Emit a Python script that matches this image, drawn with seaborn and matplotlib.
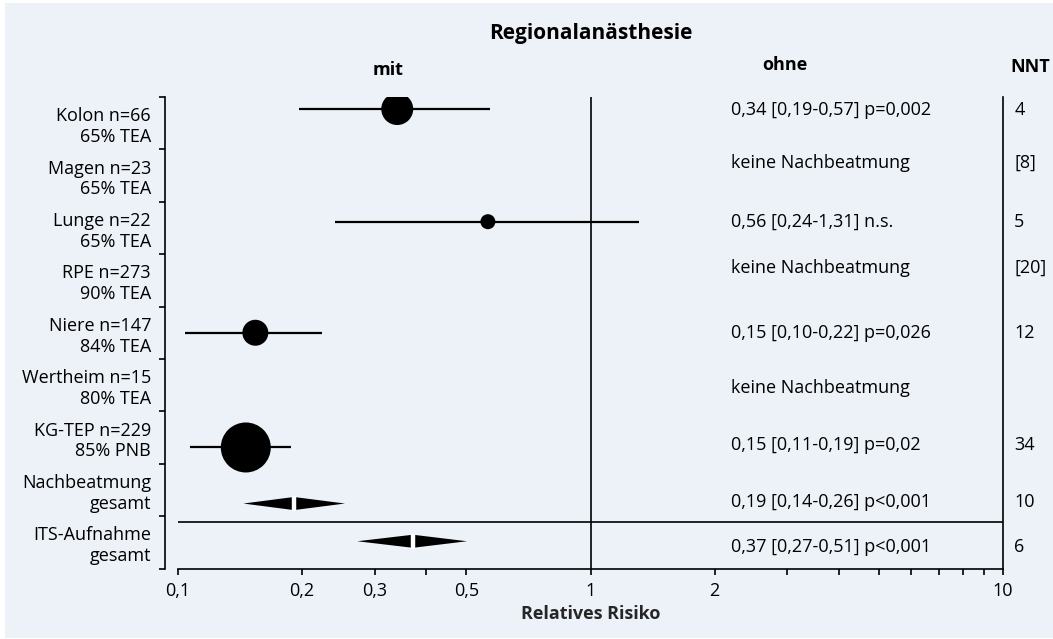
import numpy as np
import pandas as pd
import matplotlib
matplotlib.use("Agg")
import matplotlib.pyplot as plt
import matplotlib.ticker as mticker
import seaborn as sns

# Forest plot data (relative risk with 95% CI)
studies = ["Kolon n=66\n65% TEA", "Magen n=23\n65% TEA", "Lunge n=22\n65% TEA",
           "RPE n=273\n90% TEA", "Niere n=147\n84% TEA", "Wertheim n=15\n80% TEA",
           "KG-TEP n=229\n85% PNB", "Nachbeatmung\ngesamt", "ITS-Aufnahme\ngesamt"]
results = ["0,34 [0,19-0,57] p=0,002", "keine Nachbeatmung", "0,56 [0,24-1,31] n.s.",
           "keine Nachbeatmung", "0,15 [0,10-0,22] p=0,026", "keine Nachbeatmung",
           "0,15 [0,11-0,19] p=0,02", "0,19 [0,14-0,26] p<0,001", "0,37 [0,27-0,51] p<0,001"]
nnt = ["4", "[8]", "5", "[20]", "12", "", "34", "10", "6"]

# single studies (circles)
study_idx = [0, 2, 4, 6]
study_rr = [0.34, 0.564, 0.154, 0.146]
study_lo = [0.197, 0.24, 0.104, 0.107]
study_hi = [0.57, 1.31, 0.223, 0.188]
study_weight = [23, 10.8, 18.7, 36]   # marker diameter (pt)

# pooled estimates (diamonds)
pooled_idx = [7, 8]
pooled_rr = [0.191, 0.371]
pooled_lo = [0.144, 0.272]
pooled_hi = [0.254, 0.502]

# vertical placement inside each row
study_y = [0.23, 2.38, 4.5, 6.69]
pooled_y = [7.76, 8.48]
text_y = [0.25, 1.26, 2.39, 3.26, 4.5, 5.55, 6.64, 7.73, 8.59]

bg = "#edf2f9"
fs = 13
sns.set_theme(style="ticks")
plt.rcParams["font.family"] = ["Open Sans", "DejaVu Sans"]
plt.rcParams["axes.edgecolor"] = "black"
plt.rcParams["text.color"] = "black"
plt.rcParams["xtick.color"] = "black"
plt.rcParams["ytick.color"] = "black"

fig = plt.figure(figsize=(10.53, 6.39), dpi=100, facecolor="white")
fig.patches.append(plt.Rectangle((5 / 1053, 1 / 639), 1, 1 - 4 / 639, transform=fig.transFigure,
                                 facecolor=bg, edgecolor="none", zorder=-10))
ax = fig.add_axes([178 / 1053, 1 - 568.5 / 639, 825 / 1053, 471.5 / 639])
ax.patch.set_alpha(0)

df = pd.DataFrame({"rr": study_rr, "y": study_y, "w": np.array(study_weight) ** 2})
ax.hlines(study_y, study_lo, study_hi, color="black", lw=1.6, zorder=2)
sns.scatterplot(data=df, x="rr", y="y", size="w", sizes=(df.w.min(), df.w.max()),
                color="black", edgecolor="none", legend=False, ax=ax, zorder=3)

h = 0.125
for y, r, lo, hi in zip(pooled_y, pooled_rr, pooled_lo, pooled_hi):
    ax.fill([lo, r, r], [y, y - h, y + h], color="black", lw=0, zorder=3)
    ax.fill([hi, r, r], [y, y - h, y + h], color="black", lw=0, zorder=3)
    ax.vlines(r, y - h - 0.02, y + h + 0.02, color="white", lw=3.2, zorder=4)

ax.set_xscale("log")
ax.set_xlim(0.1, 10)
ax.set_ylim(9, 0)
ax.axvline(1, color="black", lw=1.2, zorder=1)
ax.axhline(8.12, color="black", lw=1.2, zorder=1)

ax.xaxis.set_major_locator(mticker.FixedLocator([0.1, 0.2, 0.3, 0.5, 1, 2, 10]))
ax.xaxis.set_major_formatter(mticker.FixedFormatter(["0,1", "0,2", "0,3", "0,5", "1", "2", "10"]))
ax.xaxis.set_minor_locator(mticker.FixedLocator([0.4, 3, 4, 5, 6, 7, 8, 9]))
ax.xaxis.set_minor_formatter(mticker.NullFormatter())
ax.tick_params(axis="x", which="both", direction="out", length=4.5, width=1.2, labelsize=fs, pad=5)

ax.set_yticks(range(10))
ax.set_yticklabels([])
ax.set_yticks([i + 0.5 for i in range(9)], minor=True)
ax.set_yticklabels(studies, minor=True)
ax.tick_params(axis="y", which="major", direction="out", length=4.5, width=1.2)
ax.tick_params(axis="y", which="minor", length=0, labelsize=fs, pad=10)
for t in ax.get_yticklabels(minor=True):
    t.set_multialignment("center")
    t.set_linespacing(1.35)
ax.set_ylabel("")

ax.spines["top"].set_visible(False)
ax.spines["left"].set_position(("outward", 9.4))
ax.spines["left"].set_bounds(0, 9)
for s in ["left", "right", "bottom"]:
    ax.spines[s].set_linewidth(1.2)

tr = ax.get_yaxis_transform()
for y, txt, n in zip(text_y, results, nnt):
    ax.text(0.670, y, txt, transform=tr, ha="left", va="center", fontsize=fs)
    ax.text(1.0135, y, n, transform=tr, ha="left", va="center", fontsize=fs, clip_on=False)

ax.set_xlabel("Relatives Risiko", fontsize=fs, fontweight="bold", labelpad=4)
fig.text(591 / 1053, 1 - 33 / 639, "Regionalanästhesie", ha="center", va="center",
         fontsize=15, fontweight="bold")
fig.text(388 / 1053, 1 - 70 / 639, "mit", ha="center", va="center", fontsize=fs, fontweight="bold")
fig.text(785 / 1053, 1 - 65 / 639, "ohne", ha="center", va="center", fontsize=fs, fontweight="bold")
fig.text(1030 / 1053, 1 - 67 / 639, "NNT", ha="center", va="center", fontsize=fs, fontweight="bold")

fig.savefig("out.png", dpi=100, facecolor="white")
